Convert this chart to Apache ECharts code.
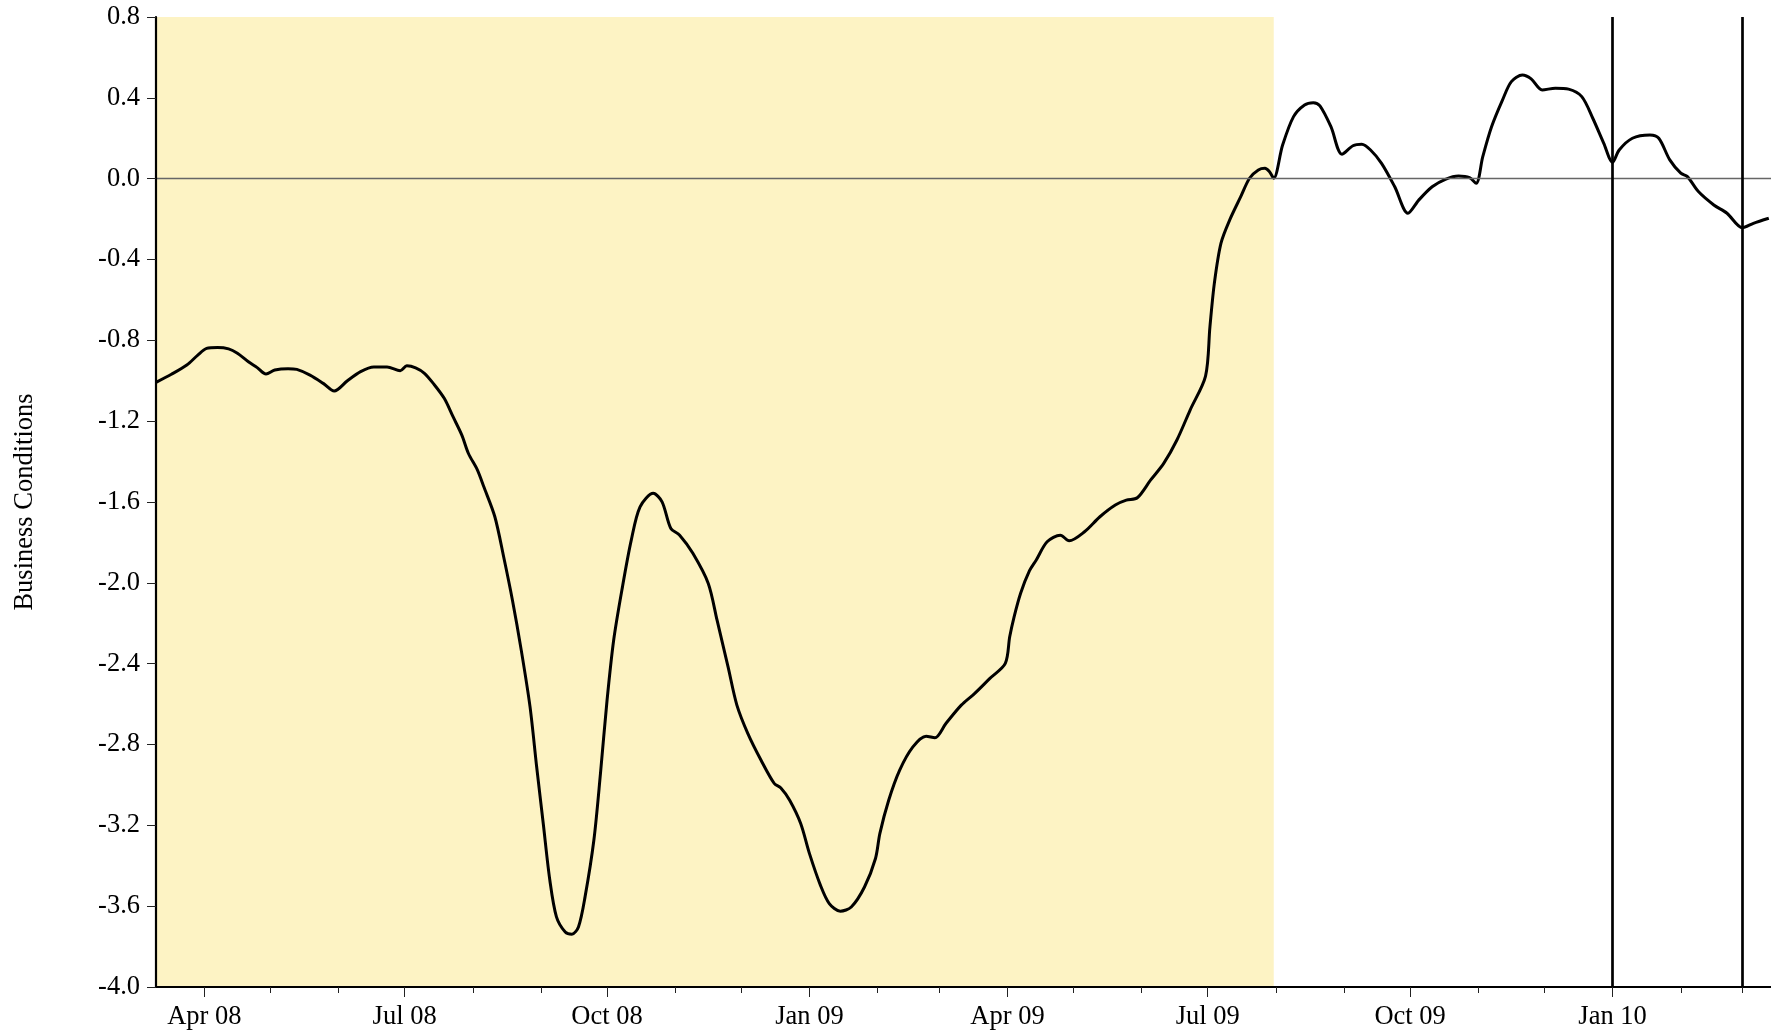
<!DOCTYPE html>
<html>
<head>
<meta charset="utf-8">
<script src="https://cdn.jsdelivr.net/npm/echarts@6/dist/echarts.min.js"></script>
<style>
html,body{margin:0;padding:0;background:#fff;}
#chart{width:1771px;height:1034px;}
</style>
</head>
<body>
<div id="chart"></div>
<script>
// ---- data ----
const dates = [
"2008-03-10","2008-03-17","2008-03-24","2008-03-29","2008-04-02","2008-04-07","2008-04-12","2008-04-16","2008-04-21","2008-04-25","2008-04-29",
"2008-05-03","2008-05-09","2008-05-13","2008-05-19","2008-05-25","2008-05-30",
"2008-06-05","2008-06-11","2008-06-17","2008-06-23","2008-06-29",
"2008-07-02","2008-07-06","2008-07-10","2008-07-14","2008-07-19","2008-07-23","2008-07-27","2008-07-30",
"2008-08-03","2008-08-06","2008-08-11","2008-08-15","2008-08-19","2008-08-23","2008-08-27","2008-08-30",
"2008-09-02","2008-09-05","2008-09-08","2008-09-12","2008-09-15","2008-09-18","2008-09-21","2008-09-25","2008-09-28",
"2008-10-01","2008-10-04","2008-10-08","2008-10-12","2008-10-16","2008-10-22","2008-10-26","2008-10-30",
"2008-11-03","2008-11-09","2008-11-16","2008-11-20","2008-11-25","2008-11-29",
"2008-12-04","2008-12-10","2008-12-16","2008-12-19","2008-12-23","2008-12-28",
"2009-01-01","2009-01-06","2009-01-10","2009-01-15","2009-01-20","2009-01-26","2009-01-31",
"2009-02-02","2009-02-06","2009-02-11","2009-02-17","2009-02-23","2009-02-27",
"2009-03-04","2009-03-11","2009-03-17","2009-03-24","2009-03-31",
"2009-04-02","2009-04-04","2009-04-07","2009-04-11","2009-04-14","2009-04-19","2009-04-25","2009-04-29",
"2009-05-06","2009-05-13","2009-05-20","2009-05-25","2009-05-30",
"2009-06-05","2009-06-11","2009-06-17","2009-06-23","2009-06-30",
"2009-07-02","2009-07-04","2009-07-07","2009-07-11","2009-07-16","2009-07-20","2009-07-24","2009-07-27","2009-07-29","2009-07-31",
"2009-08-04","2009-08-09","2009-08-14","2009-08-18","2009-08-21","2009-08-26","2009-08-31",
"2009-09-05","2009-09-09","2009-09-13","2009-09-18","2009-09-24","2009-09-30",
"2009-10-05","2009-10-11","2009-10-17","2009-10-23","2009-10-28","2009-10-31",
"2009-11-03","2009-11-07","2009-11-12","2009-11-16","2009-11-21","2009-11-25","2009-11-30",
"2009-12-06","2009-12-12","2009-12-18","2009-12-23","2009-12-28",
"2010-01-01","2010-01-04","2010-01-10","2010-01-18","2010-01-22","2010-01-27",
"2010-02-01","2010-02-04","2010-02-09","2010-02-16","2010-02-22",
"2010-03-01","2010-03-06","2010-03-13"
];
const values = [
-1.008,-0.968,-0.922,-0.873,-0.840,-0.835,-0.842,-0.864,-0.906,-0.935,-0.967,
-0.947,-0.940,-0.944,-0.972,-1.013,-1.051,
-1.000,-0.955,-0.932,-0.932,-0.950,
-0.926,-0.936,-0.963,-1.013,-1.087,-1.178,-1.269,-1.360,
-1.440,-1.525,-1.673,-1.871,-2.086,-2.333,-2.614,-2.910,
-3.191,-3.472,-3.653,-3.728,-3.739,-3.703,-3.554,-3.274,-2.944,
-2.581,-2.284,-2.020,-1.789,-1.624,-1.557,-1.599,-1.731,
-1.764,-1.854,-2.003,-2.185,-2.416,-2.605,
-2.746,-2.878,-2.993,-3.015,-3.076,-3.191,
-3.340,-3.497,-3.587,-3.625,-3.604,-3.505,-3.364,
-3.240,-3.076,-2.927,-2.812,-2.759,-2.767,
-2.696,-2.605,-2.548,-2.473,-2.399,
-2.267,-2.168,-2.050,-1.940,-1.888,-1.797,-1.764,-1.792,
-1.747,-1.673,-1.615,-1.591,-1.579,
-1.492,-1.409,-1.293,-1.145,-0.977,
-0.733,-0.518,-0.320,-0.204,-0.089,0.002,0.043,0.051,0.035,0.002,
0.165,0.307,0.365,0.376,0.360,0.257,0.121,
0.163,0.170,0.142,0.076,-0.040,-0.171,
-0.105,-0.040,-0.003,0.013,0.005,-0.023,
0.109,0.257,0.390,0.480,0.513,0.494,0.439,
0.448,0.443,0.406,0.299,0.175,
0.081,0.142,0.200,0.216,0.200,0.093,
0.027,0.010,-0.064,-0.130,-0.171,
-0.243,-0.221,-0.196
];
const xStart = "2008-03-10";
const xEnd = "2010-03-14";
const recessionEnd = "2009-07-31";
const eventDates = ["2010-01-01","2010-03-01"];
const monthNames = ["Jan","Feb","Mar","Apr","May","Jun","Jul","Aug","Sep","Oct","Nov","Dec"];
const labelMonths = ["2008-04-01","2008-07-01","2008-10-01","2009-01-01","2009-04-01","2009-07-01","2009-10-01","2010-01-01"];
const minorMonths = ["2008-05-01","2008-06-01","2008-08-01","2008-09-01","2008-11-01","2008-12-01","2009-02-01","2009-03-01","2009-05-01","2009-06-01","2009-08-01","2009-09-01","2009-11-01","2009-12-01","2010-02-01","2010-03-01"];
const yMin = -4.0, yMax = 0.8, yStep = 0.4;
const yTitle = "Business Conditions";

// ---- chart ----
const t = (s) => { const p = s.split('-').map(Number); return Date.UTC(p[0], p[1] - 1, p[2]); };
const FONT = "Liberation Serif";
const FS = 26.5;
const chart = echarts.init(document.getElementById('chart'), null, {renderer: 'canvas'});
const seriesData = dates.map((d, i) => [t(d), values[i]]);
const xMin = t(xStart), xMax = t(xEnd);

chart.setOption({
  animation: false,
  backgroundColor: '#ffffff',
  grid: {left: 156, right: 0, top: 17, bottom: 47, containLabel: false},
  xAxis: [{
    type: 'value', min: xMin, max: xMax, z: 10, scale: true,
    splitLine: {show: false},
    axisLine: {show: true, onZero: false, lineStyle: {color: '#000', width: 2.2}},
    axisTick: {show: true, length: 10, lineStyle: {color: '#222', width: 1}, customValues: labelMonths.map(t)},
    axisLabel: {
      show: true, margin: 17, color: '#000', fontFamily: FONT, fontSize: FS,
      customValues: labelMonths.map(t),
      formatter: function (v) {
        const d = new Date(v);
        return monthNames[d.getUTCMonth()] + ' ' + String(d.getUTCFullYear()).slice(2);
      }
    }
  }, {
    type: 'value', min: xMin, max: xMax, position: 'bottom', z: 10, scale: true,
    splitLine: {show: false},
    axisLine: {show: false, onZero: false},
    axisTick: {show: true, length: 6, lineStyle: {color: '#222', width: 1}, customValues: minorMonths.map(t)},
    axisLabel: {show: false}
  }],
  yAxis: {
    type: 'value', min: yMin, max: yMax, interval: yStep, z: 10,
    name: yTitle, nameLocation: 'middle', nameGap: 117, nameRotate: 90,
    nameTextStyle: {color: '#000', fontFamily: FONT, fontSize: FS},
    splitLine: {show: false},
    axisLine: {show: true, lineStyle: {color: '#000', width: 2.2}},
    axisTick: {show: true, length: 9, lineStyle: {color: '#222', width: 1}},
    axisLabel: {
      margin: 16, color: '#000', fontFamily: FONT, fontSize: FS,
      formatter: function (v) { return Math.abs(v) < 1e-9 ? '0.0' : v.toFixed(1); }
    }
  },
  series: [{
    type: 'line', data: [], z: 1, silent: true,
    markArea: {
      silent: true,
      itemStyle: {color: '#FDF3C4'},
      data: [[{xAxis: xMin}, {xAxis: t(recessionEnd)}]]
    }
  }, {
    type: 'line', data: seriesData, z: 3, silent: true,
    showSymbol: false, symbol: 'none', smooth: 0.3,
    lineStyle: {color: '#000', width: 3},
    markLine: {
      silent: true, symbol: 'none', label: {show: false},
      data: [
        {yAxis: 0, lineStyle: {color: '#666', width: 1.4, type: 'solid'}},
        ...eventDates.map(d => ({xAxis: t(d), lineStyle: {color: '#000', width: 2.7, type: 'solid'}}))
      ]
    }
  }]
});
</script>
</body>
</html>
